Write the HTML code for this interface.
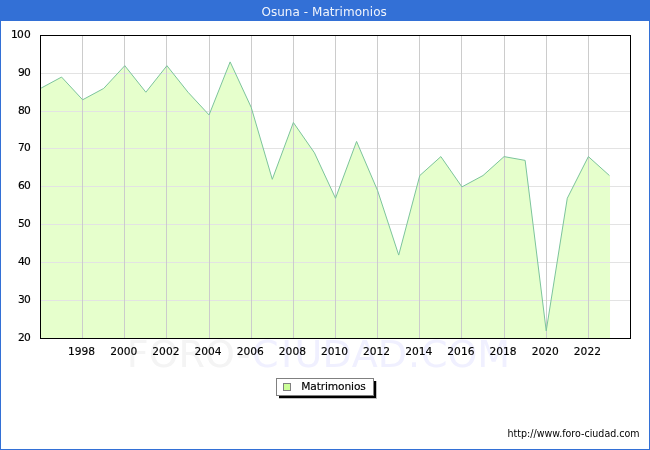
<!DOCTYPE html><html><head><meta charset="utf-8"><title>Osuna - Matrimonios</title>
<style>
html,body{margin:0;padding:0;background:#fff;}
body{width:650px;height:450px;overflow:hidden;position:relative;font-family:"DejaVu Sans","Liberation Sans",sans-serif;}
svg{position:absolute;left:0;top:0;display:block;}
text{font-family:"DejaVu Sans","Liberation Sans",sans-serif;}
.t{stroke:#000;stroke-width:0.15px;paint-order:stroke;}
</style></head><body>
<svg width="650" height="450" viewBox="0 0 650 450">
<rect x="0" y="0" width="650" height="450" fill="#ffffff"/>
<text y="367" font-size="38" fill="#f4f4f4" x="126.8 148.7 178.6 205.0 236.7">FORO-</text>
<text y="367" font-size="38" fill="#f0f0ff" x="252.1 280.9 294.6 322.5 351.8 377.8 407.9 420.9 447.4 477.3">CIUDAD.COM</text>
<rect x="40" y="35" width="590" height="303" fill="#ffffff"/>
<polygon points="40,338 40,88.43 40.50,88.43 61.57,77.06 82.64,99.79 103.71,88.43 124.79,65.70 145.86,92.21 166.93,65.70 188.00,92.21 209.07,114.94 230.14,61.91 251.21,107.36 272.29,179.32 293.36,122.51 314.43,152.81 335.50,198.26 356.57,141.45 377.64,190.69 398.71,255.08 419.79,175.54 440.86,156.60 461.93,186.90 483.00,175.54 504.07,156.60 525.14,160.39 546.21,330.82 567.29,198.26 588.36,156.60 609.43,175.54 610.03,175.54 610.03,338" fill="#e6ffcc"/>
<rect x="40" y="300" width="590" height="1" fill="#e3e3e3"/>
<rect x="40" y="262" width="590" height="1" fill="#e3e3e3"/>
<rect x="40" y="224" width="590" height="1" fill="#e3e3e3"/>
<rect x="40" y="186" width="590" height="1" fill="#e3e3e3"/>
<rect x="40" y="148" width="590" height="1" fill="#e3e3e3"/>
<rect x="40" y="111" width="590" height="1" fill="#e3e3e3"/>
<rect x="40" y="73" width="590" height="1" fill="#e3e3e3"/>
<rect x="82" y="35" width="1" height="303" fill="#cccccc"/>
<rect x="124" y="35" width="1" height="303" fill="#cccccc"/>
<rect x="166" y="35" width="1" height="303" fill="#cccccc"/>
<rect x="209" y="35" width="1" height="303" fill="#cccccc"/>
<rect x="251" y="35" width="1" height="303" fill="#cccccc"/>
<rect x="293" y="35" width="1" height="303" fill="#cccccc"/>
<rect x="335" y="35" width="1" height="303" fill="#cccccc"/>
<rect x="377" y="35" width="1" height="303" fill="#cccccc"/>
<rect x="419" y="35" width="1" height="303" fill="#cccccc"/>
<rect x="461" y="35" width="1" height="303" fill="#cccccc"/>
<rect x="504" y="35" width="1" height="303" fill="#cccccc"/>
<rect x="546" y="35" width="1" height="303" fill="#cccccc"/>
<rect x="588" y="35" width="1" height="303" fill="#cccccc"/>
<polyline points="40.50,88.43 61.57,77.06 82.64,99.79 103.71,88.43 124.79,65.70 145.86,92.21 166.93,65.70 188.00,92.21 209.07,114.94 230.14,61.91 251.21,107.36 272.29,179.32 293.36,122.51 314.43,152.81 335.50,198.26 356.57,141.45 377.64,190.69 398.71,255.08 419.79,175.54 440.86,156.60 461.93,186.90 483.00,175.54 504.07,156.60 525.14,160.39 546.21,330.82 567.29,198.26 588.36,156.60 609.43,175.54" fill="none" stroke="#7cc49c" stroke-width="1" stroke-linejoin="round"/>
<rect x="40.5" y="35.5" width="590" height="303" fill="none" stroke="#000" stroke-width="1"/>
<text x="18.1 24.1" y="341" class="t" font-size="10.67" fill="#000">20</text>
<text x="18.1 24.1" y="303" class="t" font-size="10.67" fill="#000">30</text>
<text x="18.1 24.1" y="265" class="t" font-size="10.67" fill="#000">40</text>
<text x="18.1 24.1" y="227" class="t" font-size="10.67" fill="#000">50</text>
<text x="18.1 24.1" y="189" class="t" font-size="10.67" fill="#000">60</text>
<text x="18.1 24.1" y="151" class="t" font-size="10.67" fill="#000">70</text>
<text x="18.1 24.1" y="114" class="t" font-size="10.67" fill="#000">80</text>
<text x="18.1 24.1" y="76" class="t" font-size="10.67" fill="#000">90</text>
<text x="11.1 17.1 24.1" y="38" class="t" font-size="10.67" fill="#000">100</text>
<text x="81.6" y="355" class="t" font-size="10.67" text-anchor="middle" fill="#000">1998</text>
<text x="123.8" y="355" class="t" font-size="10.67" text-anchor="middle" fill="#000">2000</text>
<text x="165.9" y="355" class="t" font-size="10.67" text-anchor="middle" fill="#000">2002</text>
<text x="208.1" y="355" class="t" font-size="10.67" text-anchor="middle" fill="#000">2004</text>
<text x="250.2" y="355" class="t" font-size="10.67" text-anchor="middle" fill="#000">2006</text>
<text x="292.4" y="355" class="t" font-size="10.67" text-anchor="middle" fill="#000">2008</text>
<text x="334.5" y="355" class="t" font-size="10.67" text-anchor="middle" fill="#000">2010</text>
<text x="376.6" y="355" class="t" font-size="10.67" text-anchor="middle" fill="#000">2012</text>
<text x="418.8" y="355" class="t" font-size="10.67" text-anchor="middle" fill="#000">2014</text>
<text x="460.9" y="355" class="t" font-size="10.67" text-anchor="middle" fill="#000">2016</text>
<text x="503.1" y="355" class="t" font-size="10.67" text-anchor="middle" fill="#000">2018</text>
<text x="545.2" y="355" class="t" font-size="10.67" text-anchor="middle" fill="#000">2020</text>
<text x="587.4" y="355" class="t" font-size="10.67" text-anchor="middle" fill="#000">2022</text>
<rect x="0" y="0" width="650" height="21" fill="#3370d6"/>
<rect x="0" y="0" width="1" height="450" fill="#3370d6"/>
<rect x="649" y="0" width="1" height="450" fill="#3370d6"/>
<rect x="0" y="449" width="650" height="1" fill="#3370d6"/>
<text x="261.4" y="15.8" font-size="12" fill="#f0f4fc" textLength="125.4" lengthAdjust="spacing">Osuna - Matrimonios</text>
<rect x="279" y="381" width="98" height="18" fill="#000" fill-opacity="0.25"/>
<rect x="279" y="381" width="97" height="17" fill="#000"/>
<rect x="276.5" y="378.5" width="97" height="17" fill="#fff" stroke="#808080" stroke-width="1"/>
<rect x="283.5" y="383.5" width="7" height="7" fill="#ccff99" stroke="#808080" stroke-width="1"/>
<text x="301.3" y="390" class="t" font-size="10.67" fill="#000" textLength="64.6" lengthAdjust="spacing">Matrimonios</text>
<text x="507.6" y="437" font-size="9.7" fill="#000" textLength="132" lengthAdjust="spacingAndGlyphs">http://www.foro-ciudad.com</text>
</svg></body></html>
